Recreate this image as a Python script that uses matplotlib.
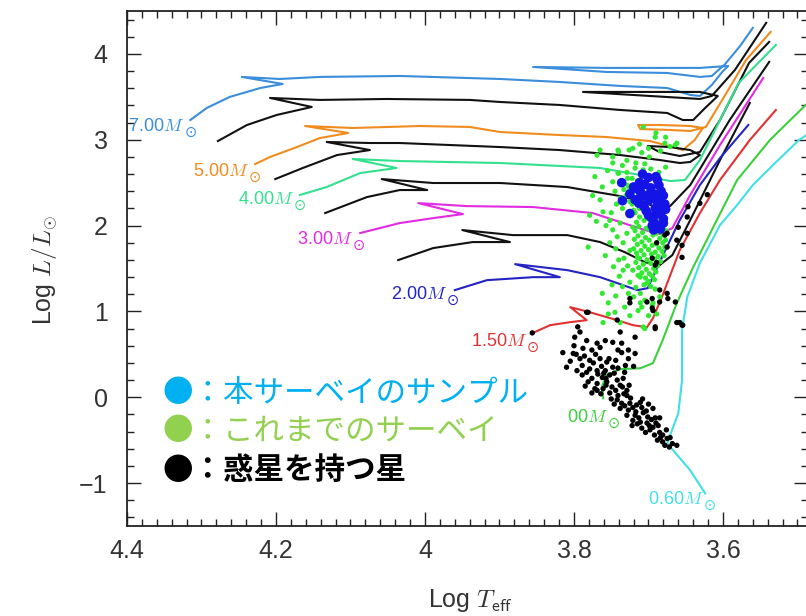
import matplotlib
matplotlib.use("Agg")
import matplotlib.pyplot as plt
from matplotlib.ticker import MultipleLocator, FuncFormatter

plt.rcParams['mathtext.fontset'] = 'cm'
plt.rcParams['font.family'] = ['Liberation Sans', 'DejaVu Sans']

# ---------------- evolutionary tracks (log Teff, log L/Lsun) ----------------
t700_logT = [4.315, 4.293, 4.262, 4.221, 4.191, 4.246, 4.195, 4.141, 4.034, 3.899, 3.819, 3.738, 3.675,
             3.644, 3.631, 3.615, 3.601, 3.593, 3.631, 3.675, 3.757, 3.855, 3.757, 3.675, 3.631, 3.615,
             3.597, 3.577, 3.560]
t700_logL = [3.230, 3.370, 3.499, 3.603, 3.650, 3.732, 3.708, 3.732, 3.743, 3.708, 3.673, 3.627, 3.603,
             3.522, 3.510, 3.638, 3.790, 3.860, 3.837, 3.837, 3.837, 3.848, 3.790, 3.778, 3.732, 3.743,
             3.883, 4.093, 4.303]

t600_logT = [4.278, 4.239, 4.199, 4.152, 4.208, 4.141, 4.051, 3.940, 3.899, 3.819, 3.738, 3.675, 3.654,
             3.640, 3.624, 3.607, 3.631, 3.698, 3.788, 3.698, 3.631, 3.615, 3.584, 3.542]
t600_logL = [2.985, 3.172, 3.289, 3.382, 3.487, 3.464, 3.475, 3.464, 3.440, 3.405, 3.347, 3.312, 3.230,
             3.230, 3.370, 3.510, 3.557, 3.557, 3.557, 3.510, 3.475, 3.510, 3.813, 4.362]

t500_logT = [4.228, 4.208, 4.172, 4.141, 4.103, 4.161, 4.097, 4.007, 3.940, 3.899, 3.819, 3.757, 3.698,
             3.667, 3.654, 3.638, 3.627, 3.644, 3.685, 3.714, 3.711, 3.671, 3.644, 3.623, 3.597, 3.569, 3.536]
t500_logL = [2.717, 2.799, 2.915, 3.020, 3.079, 3.160, 3.137, 3.160, 3.149, 3.090, 3.055, 3.032, 2.985,
             2.915, 2.880, 2.997, 3.137, 3.160, 3.172, 3.172, 3.125, 3.114, 3.102, 3.149, 3.522, 3.930, 4.257]

t450_logT = [4.201, 4.164, 4.118, 4.074, 4.132, 4.074, 4.034, 3.899, 3.819, 3.738, 3.685, 3.658, 3.644,
             3.631, 3.644, 3.671, 3.701, 3.685, 3.658, 3.631, 3.604, 3.565, 3.538]
t450_logL = [2.542, 2.671, 2.822, 2.880, 2.974, 2.962, 2.962, 2.915, 2.880, 2.822, 2.764, 2.729, 2.741,
             2.822, 2.880, 2.915, 2.927, 2.857, 2.811, 2.857, 3.230, 3.895, 4.140]

t400_logT = [4.168, 4.132, 4.087, 4.038, 4.097, 4.034, 3.899, 3.765, 3.711, 3.671, 3.651, 3.631, 3.604,
             3.579, 3.529]
t400_logL = [2.356, 2.449, 2.612, 2.671, 2.776, 2.752, 2.729, 2.671, 2.589, 2.519, 2.531, 2.764, 3.230,
             3.662, 4.105]

t350_logT = [4.134, 4.078, 4.034, 3.997, 4.058, 3.989, 3.899, 3.809, 3.738, 3.702, 3.689, 3.671, 3.644,
             3.591, 3.538]
t350_logL = [2.146, 2.332, 2.414, 2.414, 2.542, 2.496, 2.496, 2.449, 2.344, 2.262, 2.204, 2.227, 2.472,
             3.230, 3.907]

t300_logT = [4.087, 4.034, 3.989, 3.949, 4.009, 3.944, 3.855, 3.775, 3.738, 3.705, 3.685, 3.668, 3.644,
             3.604, 3.546]
t300_logL = [1.913, 2.029, 2.087, 2.134, 2.262, 2.227, 2.216, 2.146, 2.041, 1.948, 1.901, 1.971, 2.356,
             2.939, 3.720]

t250_logT = [4.036, 3.989, 3.936, 3.886, 3.950, 3.882, 3.809, 3.765, 3.732, 3.705, 3.685, 3.668, 3.644,
             3.604, 3.564]
t250_logL = [1.598, 1.738, 1.808, 1.808, 1.948, 1.889, 1.889, 1.808, 1.691, 1.574, 1.539, 1.656, 2.064,
             2.764, 3.429]

t200_logT = [3.960, 3.917, 3.855, 3.819, 3.879, 3.809, 3.765, 3.738, 3.715, 3.701, 3.685, 3.658, 3.631,
             3.604, 3.566]
t200_logL = [1.248, 1.364, 1.399, 1.399, 1.551, 1.481, 1.399, 1.318, 1.248, 1.271, 1.574, 2.064, 2.472,
             2.787, 3.172]

t150_logT = [3.856, 3.832, 3.805, 3.783, 3.805, 3.779, 3.742, 3.721, 3.702, 3.694, 3.681, 3.658, 3.631,
             3.604, 3.564, 3.529]
t150_logL = [0.746, 0.840, 0.875, 0.898, 1.050, 0.991, 0.898, 0.840, 0.816, 0.921, 1.190, 1.714, 2.146,
             2.531, 2.997, 3.347]

t100_logT = [3.761, 3.762, 3.756, 3.738, 3.711, 3.694, 3.681, 3.662, 3.640, 3.613, 3.581, 3.537, 3.489, 3.475]
t100_logL = [-0.012, 0.140, 0.257, 0.327, 0.338, 0.397, 0.665, 1.096, 1.516, 1.983, 2.531, 2.997, 3.405, 3.52]

t060_logT = [3.624, 3.644, 3.675, 3.660, 3.655, 3.655, 3.648, 3.631, 3.604, 3.581, 3.560, 3.530, 3.498, 3.480]
t060_logL = [-1.120, -0.851, -0.536, -0.187, 0.198, 0.781, 1.166, 1.563, 2.006, 2.239, 2.472, 2.729, 2.997, 3.10]

mass_labels = ["7.00", "5.00", "4.00", "3.00", "2.00", "1.50", "00", "0.60"]

# ---------------- stars ----------------
blue_stars = [(3.736, 2.50), (3.725, 2.37), (3.735, 2.29), (3.725, 2.14), (3.708, 2.60), (3.700, 2.56),
              (3.688, 2.53), (3.686, 2.47), (3.715, 2.43), (3.711, 2.33), (3.700, 2.29), (3.693, 2.37),
              (3.691, 2.20), (3.683, 2.16), (3.700, 2.12), (3.693, 2.04), (3.688, 2.00), (3.680, 2.08),
              (3.706, 2.22), (3.713, 2.26), (3.684, 2.31), (3.678, 2.25), (3.720, 2.45), (3.711, 2.40),
              (3.696, 2.09), (3.690, 2.13), (3.705, 2.48), (3.697, 2.44), (3.683, 2.40), (3.680, 2.35),
              (3.690, 2.30), (3.703, 2.17), (3.687, 2.24), (3.677, 2.19), (3.695, 2.00), (3.680, 2.03),
              (3.700, 2.36), (3.712, 2.50), (3.718, 2.30), (3.690, 2.57), (3.684, 1.96), (3.693, 1.95)]

green_stars = [(3.769, 2.82), (3.741, 2.88), (3.729, 2.76), (3.709, 2.85), (3.691, 3.03), (3.678, 2.96),
               (3.664, 2.94), (3.718, 2.67), (3.748, 2.73), (3.741, 2.61), (3.772, 2.57), (3.761, 2.16),
               (3.752, 2.06), (3.738, 2.03), (3.748, 1.95), (3.729, 1.91), (3.721, 1.98), (3.781, 1.75),
               (3.742, 1.87), (3.734, 1.80), (3.725, 1.71), (3.715, 1.63), (3.721, 1.48), (3.725, 1.34),
               (3.711, 1.40), (3.702, 1.33), (3.711, 1.21), (3.705, 1.13), (3.695, 1.07), (3.709, 1.05),
               (3.754, 1.10), (3.762, 1.21), (3.745, 0.99), (3.738, 0.87), (3.761, 0.87), (3.689, 0.97),
               (3.685, 1.17), (3.754, 0.97), (3.711, 1.10), (3.705, 0.80), (3.734, 1.48), (3.727, 1.21),
               (3.707, 0.82), (3.694, 1.10), (3.707, 3.15), (3.690, 3.08), (3.677, 3.03), (3.740, 2.86),
               (3.726, 2.88), (3.748, 2.80), (3.699, 2.80), (3.717, 2.73), (3.707, 2.65), (3.677, 2.68),
               (3.740, 2.61), (3.748, 2.51), (3.726, 2.45), (3.686, 2.45), (3.662, 2.96), (3.671, 2.92),
               (3.721, 2.90), (3.765, 2.30), (3.779, 2.12), (3.730, 2.35), (3.722, 2.25), (3.735, 2.20),
               (3.718, 2.15), (3.728, 2.55), (3.715, 2.52), (3.765, 2.88),
               (3.712, 2.10), (3.700, 2.08), (3.690, 2.11), (3.681, 2.07), (3.716, 2.04), (3.706, 2.06),
               (3.695, 2.03), (3.686, 2.05), (3.678, 2.01), (3.713, 1.99), (3.703, 1.97), (3.692, 2.00),
               (3.683, 1.96), (3.676, 1.94), (3.718, 1.94), (3.708, 1.92), (3.698, 1.95), (3.689, 1.91),
               (3.680, 1.89), (3.714, 1.88), (3.704, 1.86), (3.694, 1.89), (3.685, 1.85), (3.677, 1.83),
               (3.719, 1.84), (3.709, 1.81), (3.699, 1.83), (3.690, 1.79), (3.681, 1.80), (3.715, 1.78),
               (3.705, 1.76), (3.695, 1.77), (3.686, 1.74), (3.678, 1.75), (3.720, 1.73), (3.710, 1.71),
               (3.700, 1.72), (3.691, 1.69), (3.682, 1.70), (3.716, 1.68), (3.706, 1.66), (3.696, 1.67),
               (3.687, 1.64), (3.679, 1.65), (3.712, 1.62), (3.702, 1.60), (3.692, 1.61), (3.684, 1.58),
               (3.717, 1.57), (3.707, 1.55), (3.697, 1.56), (3.688, 1.53), (3.713, 1.51), (3.703, 1.49),
               (3.693, 1.50), (3.709, 1.45), (3.699, 1.44), (3.690, 1.46), (3.714, 1.42), (3.704, 1.39),
               (3.695, 1.41), (3.700, 1.35), (3.692, 1.37), (3.706, 1.31), (3.697, 1.29), (3.691, 1.26),
               (3.720, 2.18), (3.712, 2.20), (3.725, 2.28), (3.717, 2.40), (3.728, 2.47), (3.722, 2.55),
               (3.733, 2.42), (3.738, 2.32), (3.743, 2.25), (3.745, 2.40), (3.750, 2.15), (3.757, 2.00),
               (3.744, 1.73), (3.752, 1.80), (3.758, 1.65), (3.740, 1.60), (3.733, 1.62), (3.747, 1.52),
               (3.739, 1.41), (3.728, 1.53), (3.735, 1.29), (3.744, 1.18), (3.720, 1.17), (3.717, 1.28),
               (3.714, 1.01), (3.725, 0.95), (3.732, 1.05), (3.700, 0.95), (3.749, 1.31), (3.729, 2.62),
               (3.735, 2.70), (3.705, 2.72), (3.697, 2.66), (3.686, 2.62), (3.700, 2.90), (3.712, 2.95),
               (3.684, 2.87), (3.755, 2.64), (3.762, 2.45), (3.775, 2.35), (3.770, 2.05)]

black_stars = [(3.856, 0.75), (3.783, 0.99), (3.742, 0.90), (3.795, 0.82), (3.792, 0.76), (3.738, 0.76),
               (3.718, 0.70), (3.691, 0.80), (3.694, 1.01), (3.799, 0.70), (3.783, 0.66), (3.769, 0.63),
               (3.815, 0.52), (3.801, 0.51), (3.788, 0.57), (3.776, 0.55), (3.765, 0.58), (3.748, 0.64),
               (3.741, 0.55), (3.727, 0.55), (3.718, 0.51), (3.792, 0.45), (3.779, 0.43), (3.765, 0.45),
               (3.756, 0.41), (3.789, 0.37), (3.796, 0.31), (3.783, 0.29), (3.769, 0.31), (3.758, 0.31),
               (3.748, 0.35), (3.741, 0.34), (3.789, 0.26), (3.776, 0.22), (3.762, 0.23), (3.752, 0.26),
               (3.781, 0.18), (3.769, 0.16), (3.756, 0.18), (3.742, 0.20), (3.734, 0.22), (3.772, 0.10),
               (3.761, 0.10), (3.749, 0.12), (3.738, 0.14), (3.729, 0.08), (3.752, 0.05), (3.741, 0.02),
               (3.769, 0.08), (3.729, 0.02), (3.742, -0.03), (3.736, -0.07), (3.725, -0.07), (3.721, -0.12),
               (3.738, -0.13), (3.727, -0.15), (3.711, -0.06), (3.709, -0.12), (3.707, -0.18), (3.729, -0.21),
               (3.718, -0.21), (3.694, -0.13), (3.701, -0.23), (3.691, -0.24), (3.685, -0.24), (3.721, -0.27),
               (3.711, -0.29), (3.702, -0.30), (3.694, -0.35), (3.687, -0.33), (3.709, -0.36), (3.698, -0.38),
               (3.685, -0.41), (3.681, -0.44), (3.675, -0.48), (3.681, -0.52), (3.678, -0.56), (3.668, -0.54),
               (3.662, -0.56), (3.621, 2.36), (3.631, 2.26), (3.647, 2.22), (3.648, 2.10), (3.660, 1.98),
               (3.675, 1.91), (3.648, 1.91), (3.655, 1.77), (3.662, 1.83), (3.689, 1.80), (3.675, 1.75),
               (3.678, 1.89), (3.655, 1.63), (3.689, 1.57), (3.691, 1.54), (3.695, 1.62), (3.685, 1.25),
               (3.674, 1.15), (3.725, 1.15), (3.695, 1.15), (3.664, 1.11), (3.675, 1.21), (3.702, 1.11),
               (3.685, 1.11), (3.725, 1.10), (3.695, 1.04), (3.658, 0.87), (3.654, 0.84), (3.691, 0.82),
               (3.662, 0.87), (3.655, 0.84), (3.781, 0.99), (3.736, 0.63), (3.736, 0.52), (3.732, 0.29),
               (3.805, 0.42), (3.797, 0.50), (3.786, 0.48), (3.774, 0.40), (3.763, 0.36), (3.779, 0.33),
               (3.768, 0.27), (3.757, 0.22), (3.746, 0.28), (3.764, 0.04), (3.744, 0.08), (3.735, 0.12),
               (3.726, 0.14), (3.757, 0.14), (3.750, -0.02), (3.733, 0.04), (3.724, -0.01), (3.716, -0.09),
               (3.746, -0.08), (3.732, -0.10), (3.717, -0.17), (3.703, -0.16), (3.722, -0.33), (3.713, -0.24),
               (3.696, -0.26), (3.690, -0.30), (3.704, -0.41), (3.692, -0.44), (3.676, -0.38), (3.671, -0.47),
               (3.688, -0.50), (3.672, -0.58), (3.684, -0.47), (3.699, -0.33), (3.715, -0.31), (3.753, 0.45),
               (3.771, 0.50), (3.744, 0.43), (3.731, 0.37), (3.785, 0.13), (3.760, 0.28), (3.800, 0.60),
               (3.758, 0.66), (3.727, 0.45), (3.720, 0.36), (3.810, 0.35), (3.776, 0.05), (3.708, -0.02),
               (3.700, -0.08)]

legend_texts = ["●：本サーベイのサンプル", "●：これまでのサーベイ", "●：惑星を持つ星"]

# ---------------- figure ----------------
fig = plt.figure(figsize=(8.06, 6.16), dpi=100)
ax = fig.add_axes([127 / 806, 90 / 616, 681 / 806, 515 / 616])
ax.set_xlim(4.4, 3.4859)
ax.set_ylim(-1.5, 4.5)

tracks = [
    (t700_logT, t700_logL, '#3a8edb', 0),
    (t600_logT, t600_logL, '#111111', None),
    (t500_logT, t500_logL, '#f08c1e', 1),
    (t450_logT, t450_logL, '#111111', None),
    (t400_logT, t400_logL, '#33e08e', 2),
    (t350_logT, t350_logL, '#111111', None),
    (t300_logT, t300_logL, '#e22be2', 3),
    (t250_logT, t250_logL, '#111111', None),
    (t200_logT, t200_logL, '#2424c4', 4),
    (t150_logT, t150_logL, '#e03232', 5),
    (t100_logT, t100_logL, '#3ccf3c', 6),
    (t060_logT, t060_logL, '#40e0e6', 7),
]
# position of the sun symbol (pixels: right, down) relative to each track start
sun_offsets = {0: (0, 12), 1: (0, 13), 2: (0, 10), 3: (-1, 12), 4: (-2, 10), 5: (1, 14), 6: (11, 25), 7: (5, 12)}

for lt, ll, col, li in tracks:
    ax.plot(lt, ll, color=col, lw=1.5, zorder=2, solid_joinstyle='round')
    if li is not None:
        dx, dy = sun_offsets[li]
        ax.annotate(mass_labels[li] + r"$M$", xy=(lt[0], ll[0]),
                    xytext=((dx - 6) * 0.72, -(dy - 1) * 0.72), textcoords='offset points',
                    ha='right', va='baseline', color=col, fontsize=13, annotation_clip=False)
        ax.annotate("\u2299", xy=(lt[0], ll[0]),
                    xytext=(dx * 0.72, -dy * 0.72), textcoords='offset points',
                    ha='center', va='center', color=col, fontsize=10.5,
                    family=['DejaVu Sans'], annotation_clip=False)

gx, gy = zip(*green_stars)
ax.scatter(gx, gy, s=14, color='#33e833', edgecolors='none', zorder=3)
bx, by = zip(*blue_stars)
ax.scatter(bx, by, s=48, color='#1414e6', edgecolors='none', zorder=4)
kx, ky = zip(*black_stars)
ax.scatter(kx, ky, s=15, color='black', edgecolors='none', zorder=5)

# axes styling
ax.xaxis.set_major_locator(MultipleLocator(0.2))
ax.xaxis.set_minor_locator(MultipleLocator(0.02))
ax.yaxis.set_major_locator(MultipleLocator(1))
ax.yaxis.set_minor_locator(MultipleLocator(0.2))
ax.xaxis.set_major_formatter(FuncFormatter(lambda v, p: f"{v:g}"))
ax.yaxis.set_major_formatter(FuncFormatter(lambda v, p: f"{v:g}".replace('-', '\u2212')))
ax.tick_params(which='both', direction='in', top=True, right=True, width=1.0, colors='#222222')
ax.tick_params(which='major', length=10)
ax.tick_params(which='minor', length=4.7)
ax.tick_params(axis='x', which='major', pad=9, labelsize=18, labelcolor='#333333')
ax.tick_params(axis='y', which='major', pad=14, labelsize=18, labelcolor='#333333')
for sp in ax.spines.values():
    sp.set_linewidth(1.3)
    sp.set_color('#222222')

ax.set_xlabel(r"Log $T_{\mathsf{eff}}$", fontsize=18, color='#333333')
ax.xaxis.set_label_coords((470 - 127) / 681, -0.118)
ax.set_ylabel(r"Log $L/L_{\odot}$", fontsize=18, color='#333333')
ax.yaxis.label.set_va('center')
ax.yaxis.set_label_coords((45 - 127) / 681, (526 - 270) / 515)

# overlay legend text
legend_colors = ['#00b0f0', '#92d050', '#000000']
legend_rows_px = [393, 431, 470]
legend_weights = ['normal', 'normal', 'bold']
for txt, c, ypx, w in zip(legend_texts, legend_colors, legend_rows_px, legend_weights):
    fig.text(163 / 806, 1 - ypx / 616, txt, color=c, fontsize=22, va='center', ha='left',
             family=['Noto Sans CJK JP'], fontweight=w)

fig.savefig("out.png", dpi=100)
